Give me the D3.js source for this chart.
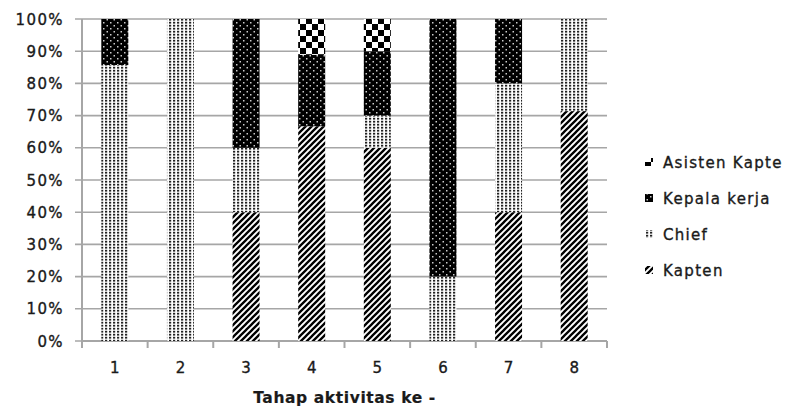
<!DOCTYPE html>
<html><head><meta charset="utf-8">
<script src="https://cdn.jsdelivr.net/npm/d3@7"></script>
<style>body{margin:0;background:#fff;overflow:hidden}svg{display:block}</style>
</head><body>
<script>
const categories = ["1","2","3","4","5","6","7","8"];
const kapten  = [0, 0, 40, 66.7, 60, 0, 40, 71.4];
const chief   = [85.7, 100, 20, 0, 10, 20, 40, 28.6];
const kepala  = [14.3, 0, 40, 22.2, 20, 80, 20, 0];
const asisten = [0, 0, 0, 11.1, 10, 0, 0, 0];
const seriesNames = ["Kapten", "Chief", "Kepala kerja", "Asisten Kapte"];
const yTicks = [0,10,20,30,40,50,60,70,80,90,100];
const xTitle = "Tahap aktivitas ke -";

const W = 785, H = 408;
const svg = d3.select("body").append("svg").attr("width", W).attr("height", H);
const defs = svg.append("defs");

// patterns
const pK = defs.append("pattern").attr("id","p0").attr("patternUnits","userSpaceOnUse").attr("width",6).attr("height",6);
pK.append("rect").attr("width",6).attr("height",6).attr("fill","#fff");
pK.append("path").attr("d","M-1,7 L7,-1 M-1,1 L1,-1 M5,7 L7,5").attr("stroke","#000").attr("stroke-width",2.3);

const pC = defs.append("pattern").attr("id","p1").attr("patternUnits","userSpaceOnUse").attr("width",4).attr("height",3);
pC.append("rect").attr("width",4).attr("height",3).attr("fill","#fff");
pC.append("rect").attr("x",1).attr("y",0.8).attr("width",2.2).attr("height",1.8).attr("fill","#222");

const pE = defs.append("pattern").attr("id","p2").attr("patternUnits","userSpaceOnUse").attr("width",7).attr("height",6);
pE.append("rect").attr("width",7).attr("height",6).attr("fill","#000");
pE.append("rect").attr("x",1.5).attr("y",1).attr("width",1.5).attr("height",1.5).attr("fill","#ccc");
pE.append("rect").attr("x",5).attr("y",4).attr("width",1.5).attr("height",1.5).attr("fill","#ccc");

const pA = defs.append("pattern").attr("id","p3").attr("patternUnits","userSpaceOnUse").attr("width",12).attr("height",12);
pA.append("rect").attr("width",12).attr("height",12).attr("fill","#fff");
pA.append("rect").attr("x",0).attr("y",0).attr("width",6).attr("height",6).attr("fill","#000");
pA.append("rect").attr("x",6).attr("y",6).attr("width",6).attr("height",6).attr("fill","#000");

const xb = d3.scaleBand().domain(categories).range([82, 607]);
const y = d3.scaleLinear().domain([0, 100]).range([341, 19]);

const txt = sel => sel.attr("font-family", "DejaVu Sans").attr("fill", "#1a1a1a")
  .attr("stroke", "#1a1a1a").attr("stroke-width", 0.35);

// gridlines
svg.append("g").selectAll("line").data(yTicks).join("line")
  .attr("x1", 75).attr("x2", 607)
  .attr("y1", d => y(d)).attr("y2", d => y(d))
  .attr("stroke", "#a6a6a6").attr("stroke-width", 1.6);

// y labels
svg.append("g").selectAll("text").data(yTicks).join("text")
  .attr("x", 64).attr("y", d => y(d) + 5.5)
  .attr("text-anchor", "end")
  .attr("font-size", 15).attr("letter-spacing", 1.4)
  .call(txt).text(d => d + "%");

// axes lines
svg.append("line").attr("x1", 82).attr("x2", 82).attr("y1", 19).attr("y2", 348)
  .attr("stroke", "#a6a6a6").attr("stroke-width", 2);
svg.append("line").attr("x1", 82).attr("x2", 607).attr("y1", 341).attr("y2", 341)
  .attr("stroke", "#a6a6a6").attr("stroke-width", 2);
const bounds = categories.map(c => xb(c)).concat([xb.range()[1]]);
svg.append("g").selectAll("line").data(bounds).join("line")
  .attr("x1", d => d).attr("x2", d => d).attr("y1", 341).attr("y2", 348)
  .attr("stroke", "#a6a6a6").attr("stroke-width", 2);

// stacked bars
const rows = categories.map((c, i) => ({cat: c, "Kapten": kapten[i], "Chief": chief[i], "Kepala kerja": kepala[i], "Asisten Kapte": asisten[i]}));
const stack = d3.stack().keys(seriesNames)(rows);
const bw = 27;
stack.forEach((s, si) => {
  svg.append("g").selectAll("rect").data(s.filter(d => d[1] - d[0] > 0)).join("rect")
    .attr("x", d => xb(d.data.cat) + xb.bandwidth() / 2 - bw / 2)
    .attr("width", bw)
    .attr("y", d => y(d[1]))
    .attr("height", d => y(d[0]) - y(d[1]))
    .attr("fill", `url(#p${si})`);
});

// x labels
svg.append("g").selectAll("text").data(categories).join("text")
  .attr("x", d => xb(d) + xb.bandwidth() / 2).attr("y", 373)
  .attr("text-anchor", "middle")
  .attr("font-size", 15)
  .call(txt).text(d => d);

svg.append("text").attr("x", 344.5).attr("y", 403)
  .attr("text-anchor", "middle")
  .attr("font-weight", "bold").attr("font-size", 15.5).attr("letter-spacing", 0.6)
  .call(txt).attr("stroke-width", 0.2).text(xTitle);

// legend
const legendOrder = [3, 2, 1, 0];
const legY = [162, 198, 234, 270];
const leg = svg.append("g");
legendOrder.forEach((si, k) => {
  const g = leg.append("g").attr("transform", `translate(645,${legY[k]})`);
  g.append("rect").attr("x", 0).attr("y", -4).attr("width", 8).attr("height", 8).attr("fill", `url(#p${si})`);
  g.append("text").attr("x", 18).attr("y", 5.5)
    .attr("font-size", 15).attr("letter-spacing", 1.3)
    .call(txt).text(seriesNames[si]);
});
</script>
</body></html>
